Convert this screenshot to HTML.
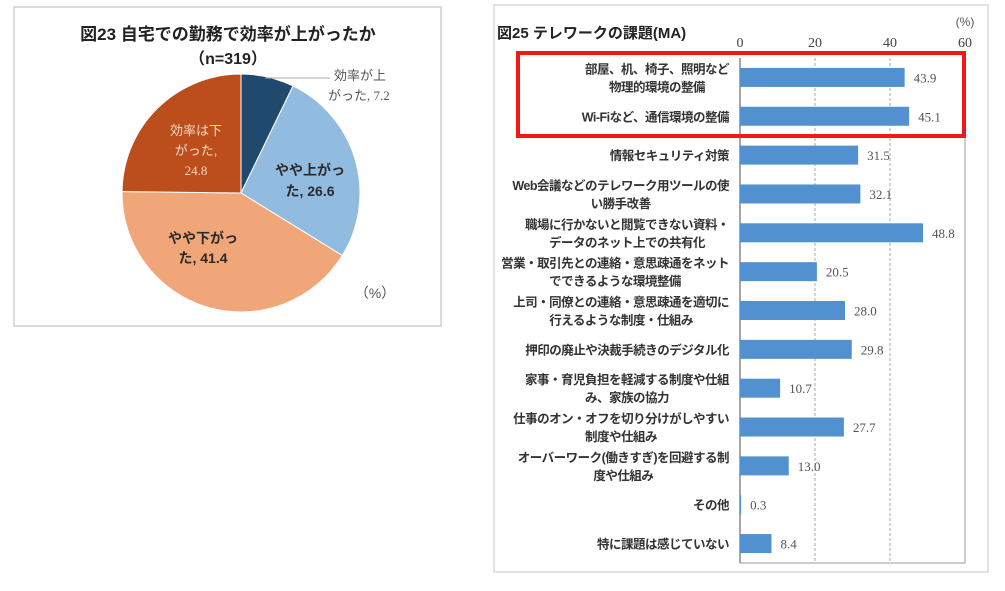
<!DOCTYPE html>
<html><head><meta charset="utf-8"><style>
body{margin:0;width:1005px;height:591px;background:#fff;overflow:hidden;font-family:"Liberation Sans","Noto Sans CJK JP",sans-serif}
svg{position:absolute;left:0;top:0}
</style></head><body>
<svg width="1005" height="591">
<rect x="14" y="7" width="427" height="319" fill="#fff" stroke="#d0d0d0" stroke-width="1.5"/>
<text x="228" y="40" text-anchor="middle" font-size="17" font-weight="bold" fill="#222">図23 自宅での勤務で効率が上がったか</text>
<text x="228" y="64" text-anchor="middle" font-size="16" font-weight="bold" fill="#222">（n=319）</text>
<g id="pie"></g>
<line x1="265" y1="78" x2="330" y2="78" stroke="#aaa" stroke-width="1"/>
<text x="334" y="80" font-size="13" fill="#555">効率が上</text>
<text x="328" y="100" font-size="13" fill="#555" font-family="Liberation Serif,'Noto Sans CJK JP',serif">がった, 7.2</text>
<text x="196" y="135" text-anchor="middle" font-size="13" fill="#f6d8c6">効率は下</text>
<text x="196" y="155" text-anchor="middle" font-size="13" fill="#f6d8c6">がった,</text>
<text x="196" y="175" text-anchor="middle" font-size="13" fill="#f6d8c6" font-family="Liberation Serif,serif">24.8</text>
<text x="310" y="175" text-anchor="middle" font-size="14" font-weight="bold" fill="#2a2a2a">やや上がっ</text>
<text x="310" y="196" text-anchor="middle" font-size="14" font-weight="bold" fill="#2a2a2a">た, 26.6</text>
<text x="203" y="243" text-anchor="middle" font-size="14" font-weight="bold" fill="#2a2a2a">やや下がっ</text>
<text x="203" y="263" text-anchor="middle" font-size="14" font-weight="bold" fill="#2a2a2a">た, 41.4</text>
<text x="375" y="298" text-anchor="middle" font-size="14" fill="#555">（%）</text>

<rect x="494" y="5" width="494" height="567" fill="#fff" stroke="#d8d8d8" stroke-width="1.5"/>
<text x="497" y="38" font-size="15" font-weight="bold" fill="#222">図25 テレワークの課題(MA)</text>
<text x="965" y="26" text-anchor="middle" font-size="12" fill="#555">(%)</text>
<g id="bars"></g>
<rect x="518" y="53" width="446" height="83" fill="none" stroke="#f01818" stroke-width="4"/>
</svg>
<script>
const pieCats=["効率が上がった","やや上がった","やや下がった","効率は下がった"];
const pieVals=[7.2,26.6,41.4,24.8];
const pieColors=["#1f4a6e","#92bbe0","#f0a678","#bc4e1c"];
const cats=["部屋、机、椅子、照明など|物理的環境の整備","Wi-Fiなど、通信環境の整備","情報セキュリティ対策","Web会議などのテレワーク用ツールの使|い勝手改善","職場に行かないと閲覧できない資料・|データのネット上での共有化","営業・取引先との連絡・意思疎通をネット|でできるような環境整備","上司・同僚との連絡・意思疎通を適切に|行えるような制度・仕組み","押印の廃止や決裁手続きのデジタル化","家事・育児負担を軽減する制度や仕組|み、家族の協力","仕事のオン・オフを切り分けがしやすい|制度や仕組み","オーバーワーク(働きすぎ)を回避する制|度や仕組み","その他","特に課題は感じていない"];
const vals=[43.9,45.1,31.5,32.1,48.8,20.5,28.0,29.8,10.7,27.7,13.0,0.3,8.4];
const ticks=[0,20,40,60];
const NS="http://www.w3.org/2000/svg";
function mk(t,a,p){const e=document.createElementNS(NS,t);for(const k in a)e.setAttribute(k,a[k]);p.appendChild(e);return e;}
const pg=document.getElementById('pie');
const cx=241,cy=193,r=119;
const tot=pieVals.reduce((a,b)=>a+b,0);
let ang=0;
pieVals.forEach((v,i)=>{
 const a0=ang/tot*2*Math.PI,a1=(ang+v)/tot*2*Math.PI;ang+=v;
 const x0=cx+r*Math.sin(a0),y0=cy-r*Math.cos(a0),x1=cx+r*Math.sin(a1),y1=cy-r*Math.cos(a1);
 const p=mk('path',{d:`M${cx},${cy}L${x0},${y0}A${r},${r} 0 ${a1-a0>Math.PI?1:0} 1 ${x1},${y1}Z`,fill:pieColors[i],stroke:'#fff','stroke-width':1},pg);
 
 
});
const bg=document.getElementById('bars');
const X0=740,X1=965,Y0=58,Y1=563;
const xs=v=>X0+(v-ticks[0])/(ticks[ticks.length-1]-ticks[0])*(X1-X0);
const step=(Y1-Y0)/cats.length;
const yc=i=>Y0+step*(i+0.5);
ticks.forEach(t=>{
 const tx=mk('text',{x:xs(t),y:47,'text-anchor':'middle','font-size':14,fill:'#444','font-family':'Liberation Serif,serif'},bg);tx.textContent=t;
 
 
 if(t>ticks[0]){const l=mk('line',{x1:xs(t),y1:Y0,x2:xs(t),y2:Y1,stroke:t===60?'#999':'#aaa','stroke-dasharray':t===60?'':'3,2'},bg);
 
 }
});
const ax=mk('line',{x1:X0,y1:Y0,x2:X0,y2:Y1,stroke:'#888','stroke-width':1.5},bg);


const bx=mk('line',{x1:X0,y1:Y1,x2:X1,y2:Y1,stroke:'#999'},bg);


vals.forEach((v,i)=>{
 const y=yc(i);
 const b=mk('rect',{x:X0,y:y-9.5,width:xs(v)-X0,height:19,fill:'#5191cf'},bg);
 
 
 const t=mk('text',{x:xs(v)+9,y:y+5,'font-size':13,fill:'#555','font-family':'Liberation Serif,serif'},bg);t.textContent=v.toFixed(1);
 
 
 const lines=cats[i].split('|');
 let w1=0;
 lines.forEach((s,j)=>{
  const ly=y+5+(j-(lines.length-1)/2)*18;
  const c=mk('text',{x:729,y:ly,'text-anchor':'end','font-size':12.5,'font-weight':'bold',fill:'#333','letter-spacing':'-0.5'},bg);c.textContent=s;
  
  
  if(j===0){w1=c.getComputedTextLength();}
  else{c.setAttribute('text-anchor','middle');c.setAttribute('x',729-w1/2);}
 });
});
</script>
</body></html>
